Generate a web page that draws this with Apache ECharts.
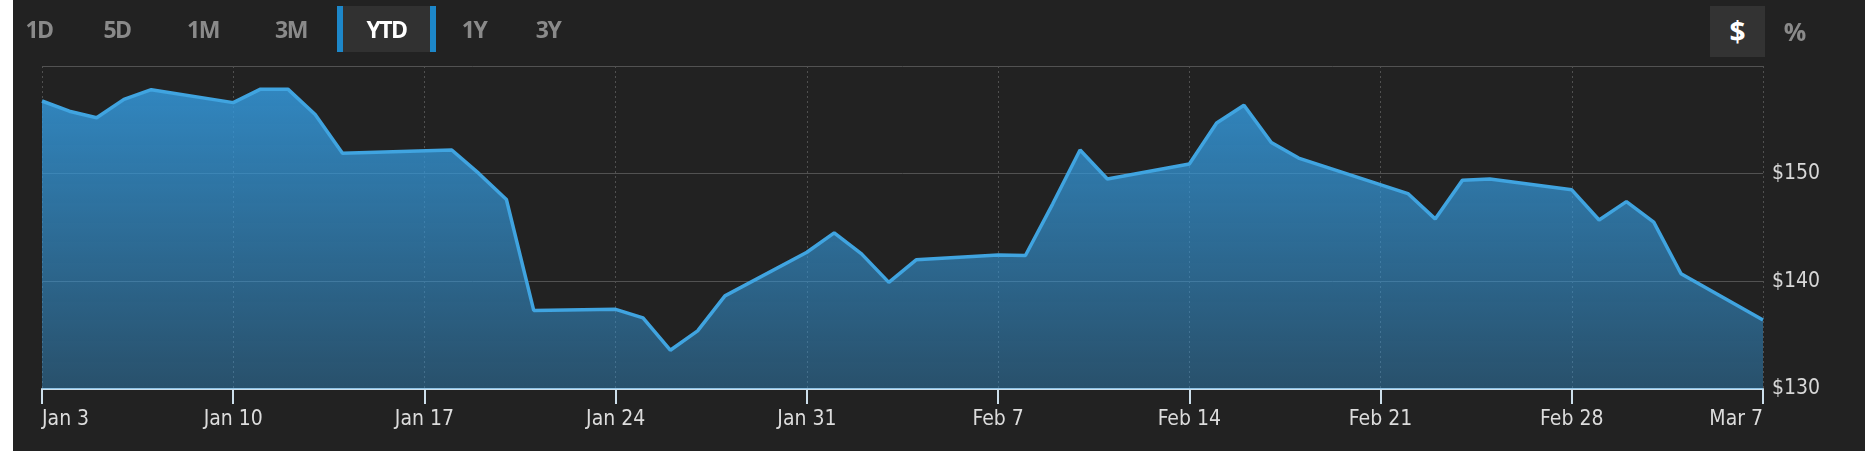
<!DOCTYPE html>
<html>
<head>
<meta charset="utf-8">
<script src="https://cdn.jsdelivr.net/npm/echarts@6/dist/echarts.min.js"></script>
<style>
  html, body { margin: 0; padding: 0; background: #222222; }
  #wrap { position: relative; width: 1865px; height: 451px; background: #222222; overflow: hidden; }
  #strip { position: absolute; left: 0; top: 0; width: 13px; height: 451px; background: #ffffff; z-index: 2; }
  #main { position: absolute; left: 0; top: 0; width: 1865px; height: 451px; }
  .btn { position: absolute; top: 6px; height: 46px; line-height: 46px; text-align: center;
         font-family: "Open Sans", sans-serif; font-weight: 700; font-size: 23px; color: #8a8a8a;
         letter-spacing: -1.5px; }
  .btn.on { color: #ffffff; background: #313131; border-left: 6px solid #1d87c9; border-right: 6px solid #1d87c9; }
  .unit { position: absolute; top: 6px; height: 51px; line-height: 51px; text-align: center;
          font-family: "Open Sans", sans-serif; font-weight: 700; }
</style>
</head>
<body>
<div id="wrap">
  <div id="strip"></div>
  <div id="main"></div>
  <div class="btn" style="left:17px;width:44px">1D</div>
  <div class="btn" style="left:95px;width:44px">5D</div>
  <div class="btn" style="left:181px;width:44px">1M</div>
  <div class="btn" style="left:269px;width:44px">3M</div>
  <div class="btn on" style="left:337px;width:87px">YTD</div>
  <div class="btn" style="left:452px;width:44px">1Y</div>
  <div class="btn" style="left:526px;width:44px">3Y</div>
  <div class="unit" style="left:1710px;width:55px;background:#333333;color:#ffffff;font-size:28px">$</div>
  <div class="unit" style="left:1775px;width:40px;color:#8a8a8a;font-size:25px">%</div>
</div>
<script>
// trading days, YTD
var dates = ['2022-01-03','2022-01-04','2022-01-05','2022-01-06','2022-01-07',
  '2022-01-10','2022-01-11','2022-01-12','2022-01-13','2022-01-14',
  '2022-01-18','2022-01-19','2022-01-20','2022-01-21',
  '2022-01-24','2022-01-25','2022-01-26','2022-01-27','2022-01-28',
  '2022-01-31','2022-02-01','2022-02-02','2022-02-03','2022-02-04',
  '2022-02-07','2022-02-08','2022-02-09','2022-02-10','2022-02-11',
  '2022-02-14','2022-02-15','2022-02-16','2022-02-17','2022-02-18',
  '2022-02-22','2022-02-23','2022-02-24','2022-02-25',
  '2022-02-28','2022-03-01','2022-03-02','2022-03-03','2022-03-04',
  '2022-03-07'];
var prices = [156.75,155.8,155.2,156.9,157.8,
  156.6,157.85,157.85,155.5,151.9,
  152.2,150.0,147.6,137.3,
  137.4,136.6,133.6,135.4,138.65,
  142.7,144.5,142.55,139.9,142.0,
  142.45,142.4,147.2,152.2,149.5,
  150.9,154.7,156.35,152.9,151.45,
  148.15,145.8,149.4,149.5,
  148.5,145.7,147.4,145.5,140.7,
  136.4];
var monthNames = ['Jan','Feb','Mar','Apr','May','Jun','Jul','Aug','Sep','Oct','Nov','Dec'];
var yMin = 130, yMax = 160, yStep = 10;
var daysShown = 63, tickDays = 7;

var DAY = 86400000;
function parseDay(s){
  var p = s.split('-');
  return Date.UTC(+p[0], +p[1]-1, +p[2]);
}
var t0 = parseDay(dates[0]);
var points = [];
for(var i=0;i<dates.length;i++){
  points.push([(parseDay(dates[i]) - t0)/DAY, prices[i]]);
}

var myChart = echarts.init(document.getElementById('main'));
myChart.setOption({
  backgroundColor: 'transparent',
  animation: false,
  grid: { left: 42, right: 102, top: 66, bottom: 62 },
  xAxis: {
    type: 'value',
    min: 0,
    max: daysShown,
    interval: tickDays,
    axisLine: { show: true, lineStyle: { color: '#cddfeb', width: 2 } },
    axisTick: { show: true, length: 15, lineStyle: { color: '#cddfeb', width: 2 } },
    splitLine: { show: true, lineStyle: { color: '#505050', type: [2, 3], width: 1 } },
    axisLabel: {
      color: '#dcdcdc',
      fontFamily: 'DejaVu Sans Condensed',
      fontSize: 21,
      margin: 20,
      showMinLabel: true,
      showMaxLabel: true,
      alignMinLabel: 'left',
      alignMaxLabel: 'right',
      formatter: function(v){
        var d = new Date(t0 + v*DAY);
        return monthNames[d.getUTCMonth()] + ' ' + d.getUTCDate();
      }
    }
  },
  yAxis: {
    type: 'value',
    position: 'right',
    min: yMin,
    max: yMax,
    interval: yStep,
    axisLine: { show: false },
    axisTick: { show: false },
    splitLine: { show: true, lineStyle: { color: '#525252', width: 1 } },
    axisLabel: {
      color: '#d8d8d8',
      fontFamily: 'DejaVu Sans Condensed',
      fontSize: 21,
      margin: 9,
      formatter: function(v){ return v >= yMax ? '' : '$' + v; }
    }
  },
  series: [{
    type: 'line',
    data: points,
    showSymbol: false,
    lineStyle: { color: '#40a4e0', width: 3.5 },
    areaStyle: {
      opacity: 1,
      color: new echarts.graphic.LinearGradient(0, 0, 0, 1, [
        { offset: 0, color: 'rgba(52,152,219,0.85)' },
        { offset: 1, color: 'rgba(52,152,219,0.40)' }
      ])
    }
  }]
});
</script>
</body>
</html>
